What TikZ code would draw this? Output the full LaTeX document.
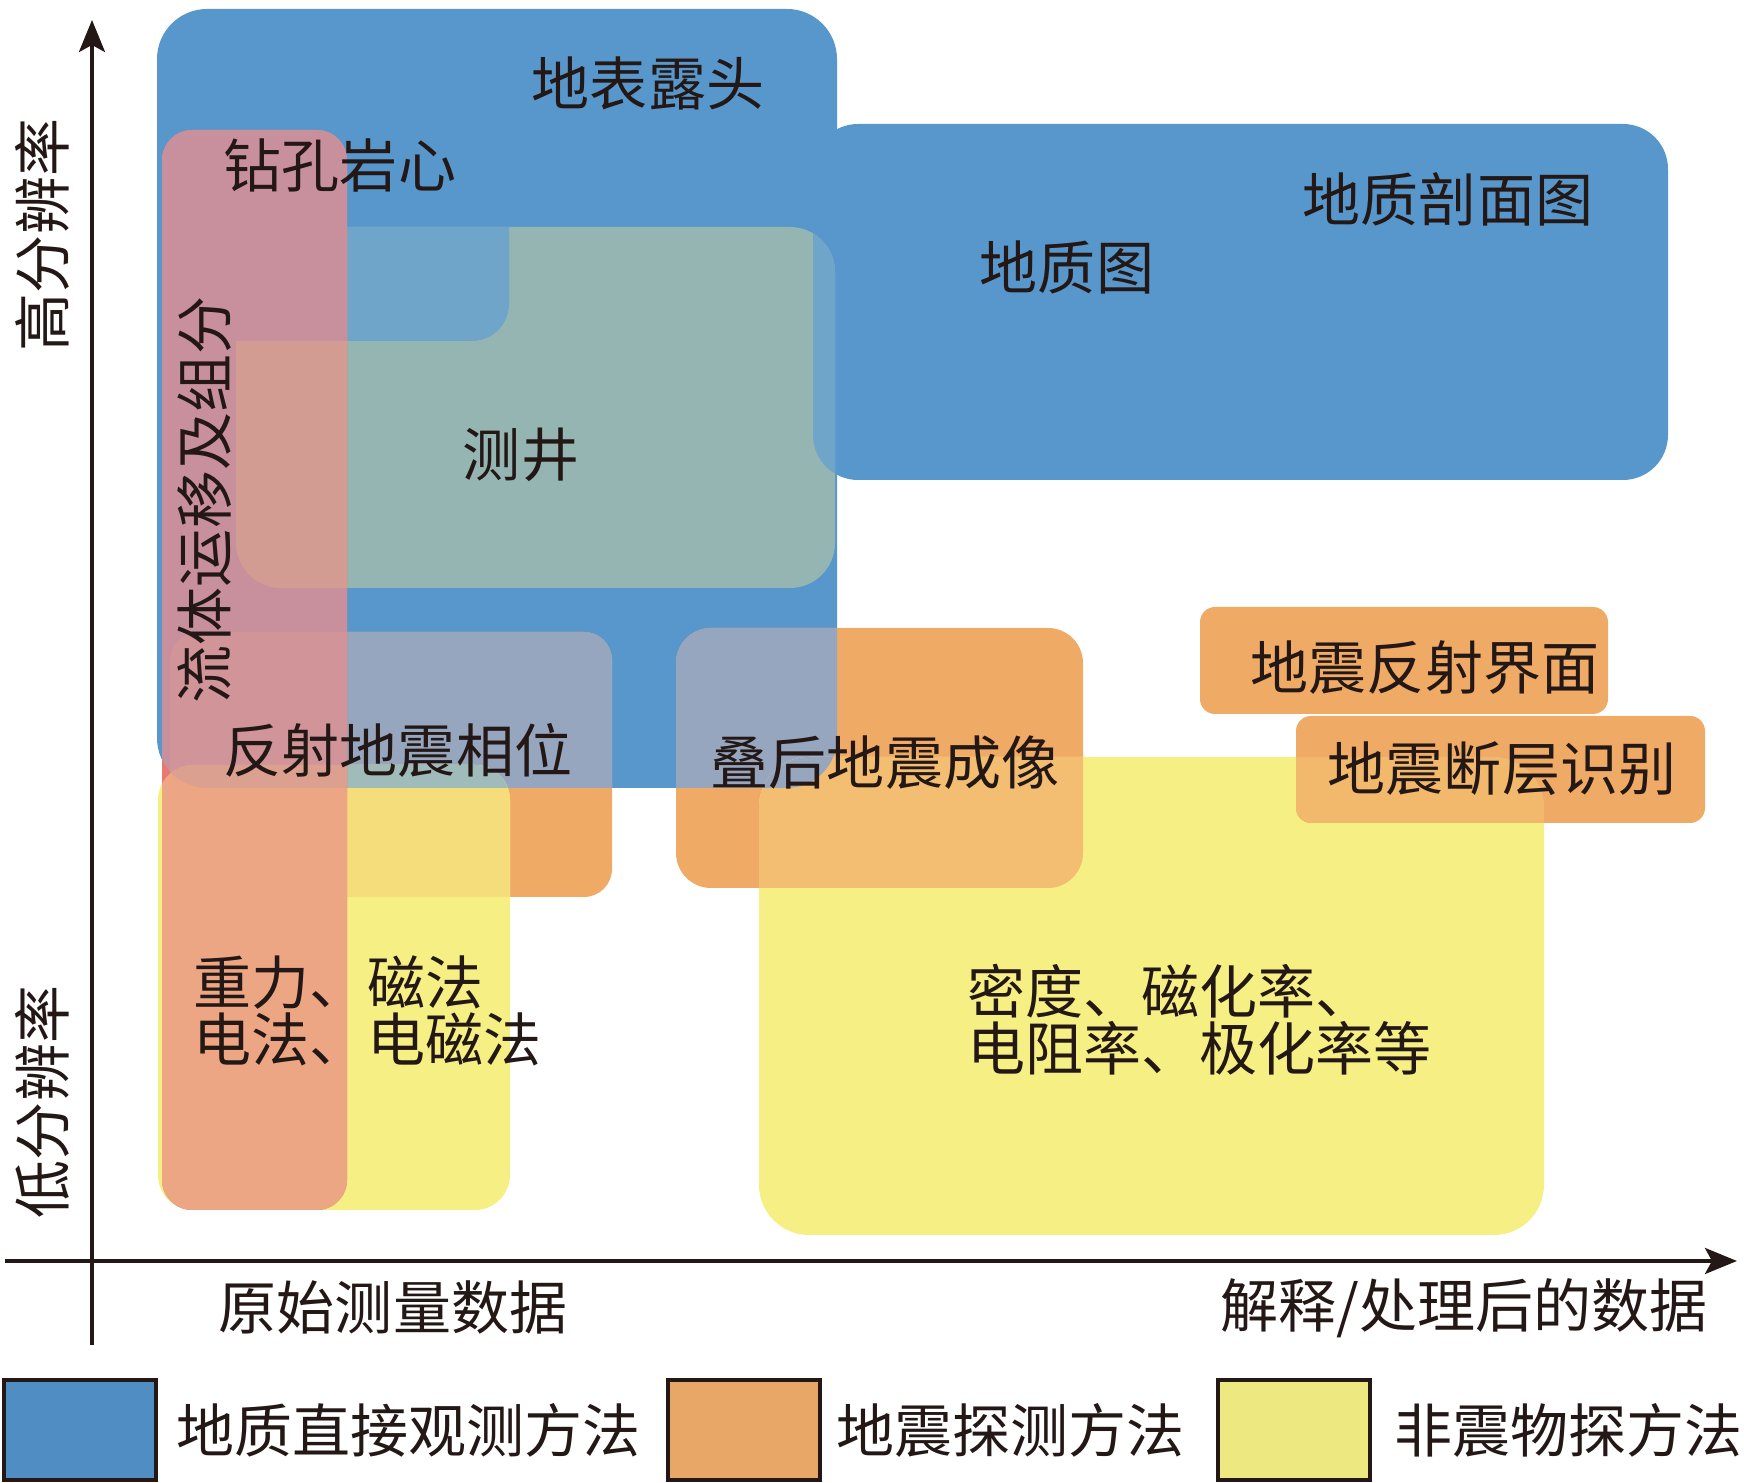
\documentclass[tikz,border=0pt]{standalone}
\usepackage{fontspec}
\newfontfamily\cjk{Noto Sans CJK SC}
\usetikzlibrary{arrows.meta}
\definecolor{cBlue}{HTML}{5897CB}
\definecolor{cCA}{HTML}{95B5B2}
\definecolor{cLB}{HTML}{6FA5C8}
\definecolor{cOr}{HTML}{EFAA66}
\definecolor{cEA}{HTML}{96A6BE}
\definecolor{cYe}{HTML}{F6EF84}
\definecolor{cGH}{HTML}{F3BE72}
\definecolor{cFE}{HTML}{F6DD7C}
\definecolor{cFEA}{HTML}{9FBCBA}
\definecolor{cJG}{HTML}{F2B96C}
\definecolor{cDw}{HTML}{E9786E}
\definecolor{cDA}{HTML}{C8909D}
\definecolor{cDC}{HTML}{D39C92}
\definecolor{cDEA}{HTML}{D09499}
\definecolor{cDF}{HTML}{ECA683}
\definecolor{cDFA}{HTML}{DCA091}
\definecolor{txt}{HTML}{231815}
\definecolor{lgBlue}{HTML}{508DC2}
\definecolor{lgOr}{HTML}{E8A766}
\definecolor{lgYe}{HTML}{EEE880}
\begin{document}
\begin{tikzpicture}[x=0.01cm,y=-0.01cm,
  lbl/.style={font=\cjk\fontsize{16.5pt}{16.2pt}\selectfont, text=txt, inner sep=0pt},
  legbox/.style={draw=txt, line width=0.9pt, minimum width=1.52cm, minimum height=1.0cm, inner sep=0pt},
  axis/.style={draw=txt, line width=1pt, -{Stealth[length=0.32cm,width=0.26cm,inset=0.07cm]}}]
\useasboundingbox (0,0) rectangle (1744,1483);
\def\shA{[rounded corners=0.5cm] (157,9) rectangle (837,788)}
\def\shB{[rounded corners=0.45cm] (813,124) rectangle (1668,480)}
\def\shC{[rounded corners=0.45cm] (236,227) rectangle (835,588)}
\def\shK{[rounded corners=0.37cm] (120,60) rectangle (509,341)}
\def\shD{[rounded corners=0.3cm] (162,130) rectangle (347,1210)}
\def\shE{[rounded corners=0.28cm] (170,632) rectangle (612,897)}
\def\shF{[rounded corners=0.35cm] (158,765) rectangle (510,1210)}
\def\shG{[rounded corners=0.5cm] (759,757) rectangle (1544,1235)}
\def\shH{[rounded corners=0.35cm] (676,628) rectangle (1083,888)}
\def\shI{[rounded corners=0.15cm] (1200,607) rectangle (1608,714)}
\def\shJ{[rounded corners=0.15cm] (1296,716) rectangle (1705,823)}
% blue direct observation
\fill[cBlue] \shA;
\fill[cBlue] \shB;
\fill[cCA] \shC;
\begin{scope}\clip \shB; \fill[cLB] \shC; \end{scope}
\begin{scope}\clip \shC; \fill[cLB] \shK; \end{scope}
% seismic E, H
\fill[cOr] \shE;
\begin{scope}\clip \shA; \fill[cEA] \shE; \end{scope}
\fill[cOr] \shH;
\begin{scope}\clip \shA; \fill[cEA] \shH; \end{scope}
% yellow G
\fill[cYe] \shG;
\begin{scope}\clip \shH; \fill[cGH] \shG; \end{scope}
\begin{scope}\clip \shH; \clip \shA; \fill[cEA] \shG; \end{scope}
% yellow F
\fill[cYe] \shF;
\begin{scope}\clip \shE; \fill[cFE] \shF; \end{scope}
\begin{scope}\clip \shE; \clip \shA; \fill[cFEA] \shF; \end{scope}
% orange I, J
\fill[cOr] \shI;
\fill[cOr] \shJ;
\begin{scope}\clip \shG; \fill[cJG] \shJ; \end{scope}
% pink D
\fill[cDw] \shD;
\begin{scope}\clip \shA; \fill[cDA] \shD; \end{scope}
\begin{scope}\clip \shC; \fill[cDC] \shD; \end{scope}
\begin{scope}\clip \shC; \clip \shK; \fill[cDA] \shD; \end{scope}
\begin{scope}\clip \shE; \clip \shA; \fill[cDEA] \shD; \end{scope}
\begin{scope}\clip \shF; \fill[cDF] \shD; \end{scope}
\begin{scope}\clip \shF; \clip \shA; \fill[cDFA] \shD; \end{scope}
% axes
\coordinate (ybot) at (92,1345);
\coordinate (ytop) at (92,20);
\coordinate (xlft) at (5,1261);
\coordinate (xrgt) at (1737,1261);
\draw[axis] (ybot) -- (ytop);
\draw[axis] (xlft) -- (xrgt);
% labels
\node[lbl] (t1) at (648,83) {地表露头};
\node[lbl] (t2) at (340,165) {钻孔岩心};
\node[lbl] (t3) at (1448,199) {地质剖面图};
\node[lbl] (t4) at (1067,267) {地质图};
\node[lbl] (t5) at (521,455) {测井};
\node[lbl,rotate=90] (t6) at (205,500) {流体运移及组分};
\node[lbl] (t7) at (398,750) {反射地震相位};
\node[lbl] (t8) at (885,763) {叠后地震成像};
\node[lbl] (t9) at (1425,668) {地震反射界面};
\node[lbl] (t10) at (1502,769) {地震断层识别};
\node[lbl,anchor=west,align=left] (t11) at (193,1011) {重力、磁法\\电法、电磁法};
\node[lbl,anchor=west,align=left] (t12) at (967,1020) {密度、磁化率、\\电阻率、极化率等};
\node[lbl,rotate=90] (ya) at (42,235) {高分辨率};
\node[lbl,rotate=90] (yb) at (42,1102) {低分辨率};
\node[lbl] (xa) at (393,1308) {原始测量数据};
\node[lbl,anchor=east] (xb) at (1708,1308) {解释/处理后的数据};
% legend
\node[legbox,fill=lgBlue] (lb1) at (80,1430) {};
\node[legbox,fill=lgOr] (lb2) at (744,1430) {};
\node[legbox,fill=lgYe] (lb3) at (1294,1430) {};
\node[lbl,anchor=west] (lt1) at (176,1430) {地质直接观测方法};
\node[lbl,anchor=west] (lt2) at (836,1430) {地震探测方法};
\node[lbl,anchor=west] (lt3) at (1394,1430) {非震物探方法};
\end{tikzpicture}
\end{document}
